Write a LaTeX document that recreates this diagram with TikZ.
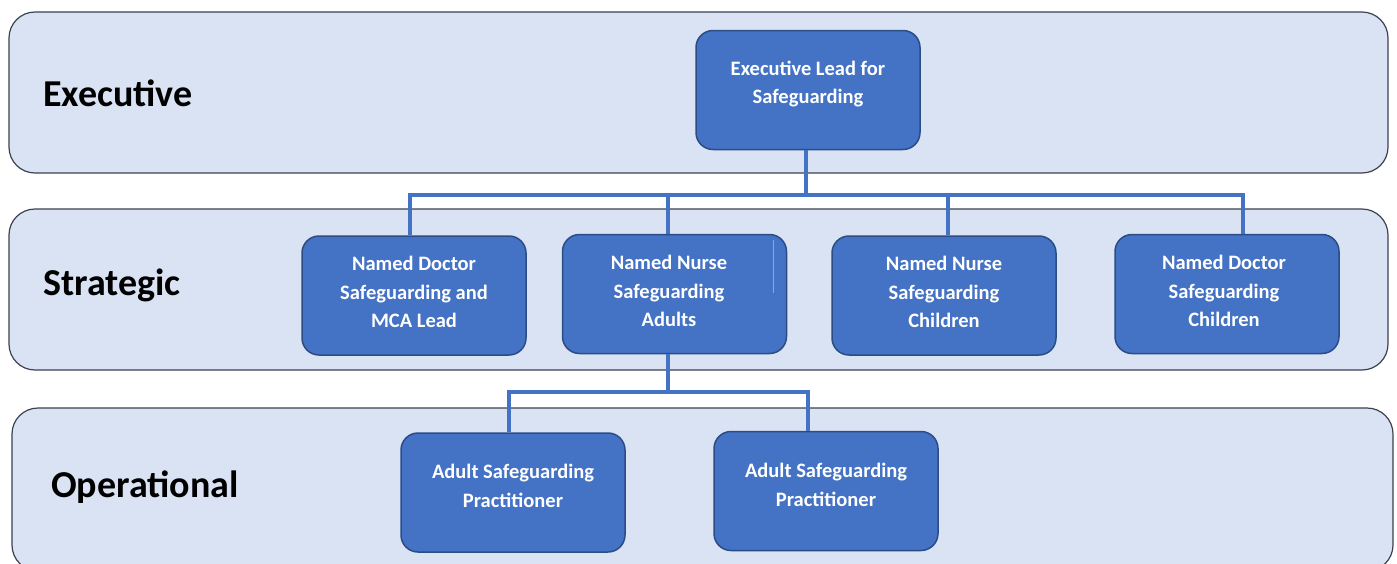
\documentclass[tikz,border=0pt]{standalone}
\usepackage{fontspec}
\setmainfont{Carlito}
\definecolor{bandfill}{HTML}{DAE3F3}
\definecolor{banddraw}{HTML}{3B4250}
\definecolor{boxfill}{HTML}{4472C4}
\definecolor{boxdraw}{HTML}{2C4C86}
\definecolor{connector}{HTML}{4472C4}
\definecolor{artifact}{HTML}{C9A24A}
\tikzset{
  band/.style={draw=banddraw, fill=bandfill, line width=1.2pt, rounded corners=26pt},
  bandlabel/.style={anchor=west, inner sep=0pt, font=\fontsize{38}{44}\selectfont\bfseries, text=black},
  rolebox/.style={draw=boxdraw, fill=boxfill, line width=1.5pt, rounded corners=17pt,
    minimum width=224pt, minimum height=119pt, inner sep=0pt},
  roletext/.style={text=white, align=center, inner sep=0pt,
    font=\fontsize{20.5}{28.5}\selectfont\bfseries},
  link/.style={draw=connector, line width=4.2pt},
}
\begin{document}
\begin{tikzpicture}[x=1pt,y=-1pt]
\useasboundingbox[fill=white] (0,0) rectangle (1397,563);
% bands
\draw[band] (9,12) rectangle (1388,173);
\draw[band] (9,209) rectangle (1388,370);
\draw[band] (12,408) rectangle (1393,571);
\node[bandlabel] (lexec) at (43,93) {Executive};
\node[bandlabel] (lstrat) at (43,285) {Strategic};
\node[bandlabel] (loper) at (51,487) {Operational};
% role boxes
\node[rolebox] (exec) at (808,90) {};
\node[rolebox] (doc1) at (414,295.5) {};
\node[rolebox] (nurA) at (674.5,294) {};
\node[rolebox] (nurC) at (944,295.5) {};
\node[rolebox] (docC) at (1227,294) {};
\node[rolebox] (prac1) at (513,492.5) {};
\node[rolebox] (prac2) at (826,491) {};
% texts
\node[roletext] (exect) at (808,84) {Executive Lead for\\Safeguarding};
\node[roletext] (doc1t) at (414,292) {Named Doctor\\Safeguarding and\\MCA Lead};
\node[roletext] (nurAt) at (669,291) {Named Nurse\\Safeguarding\\Adults};
\node[roletext] (nurCt) at (944,292) {Named Nurse\\Safeguarding\\Children};
\node[roletext] (docCt) at (1224,291) {Named Doctor\\Safeguarding\\Children};
\node[roletext] (prac1t) at (513,486) {Adult Safeguarding\\Practitioner};
\node[roletext] (prac2t) at (826,485) {Adult Safeguarding\\Practitioner};
% small artifact line
\coordinate (artA) at (773,240);
\coordinate (artB) at (773,293);
\draw[artifact, line width=1pt] (artA) -- (artB);
% connector junctions
\coordinate (busT) at (806,195);
\coordinate (busB) at (668,392);
\path (busT -| doc1.north) ++(-4,0) coordinate (d1);
\path (busT -| nurA.north) ++(-6.5,0) coordinate (d2);
\path (busT -| nurC.north) ++(4,0) coordinate (d3);
\path (busT -| docC.north) ++(16,0) coordinate (d4);
\path (busB -| prac1.north) ++(-4,0) coordinate (p1);
\path (busB -| prac2.north) ++(-18,0) coordinate (p2);
% connectors
\draw[link] (exec.south -| busT) -- (busT);
\draw[link] (d1 |- doc1.north) -- (d1) -- (d4) -- (d4 |- docC.north);
\draw[link] (d2) -- (d2 |- nurA.north);
\draw[link] (d3) -- (d3 |- nurC.north);
\draw[link] (nurA.south -| busB) -- (busB);
\draw[link] (p1 |- prac1.north) -- (p1) -- (p2) -- (p2 |- prac2.north);
\end{tikzpicture}
\end{document}
